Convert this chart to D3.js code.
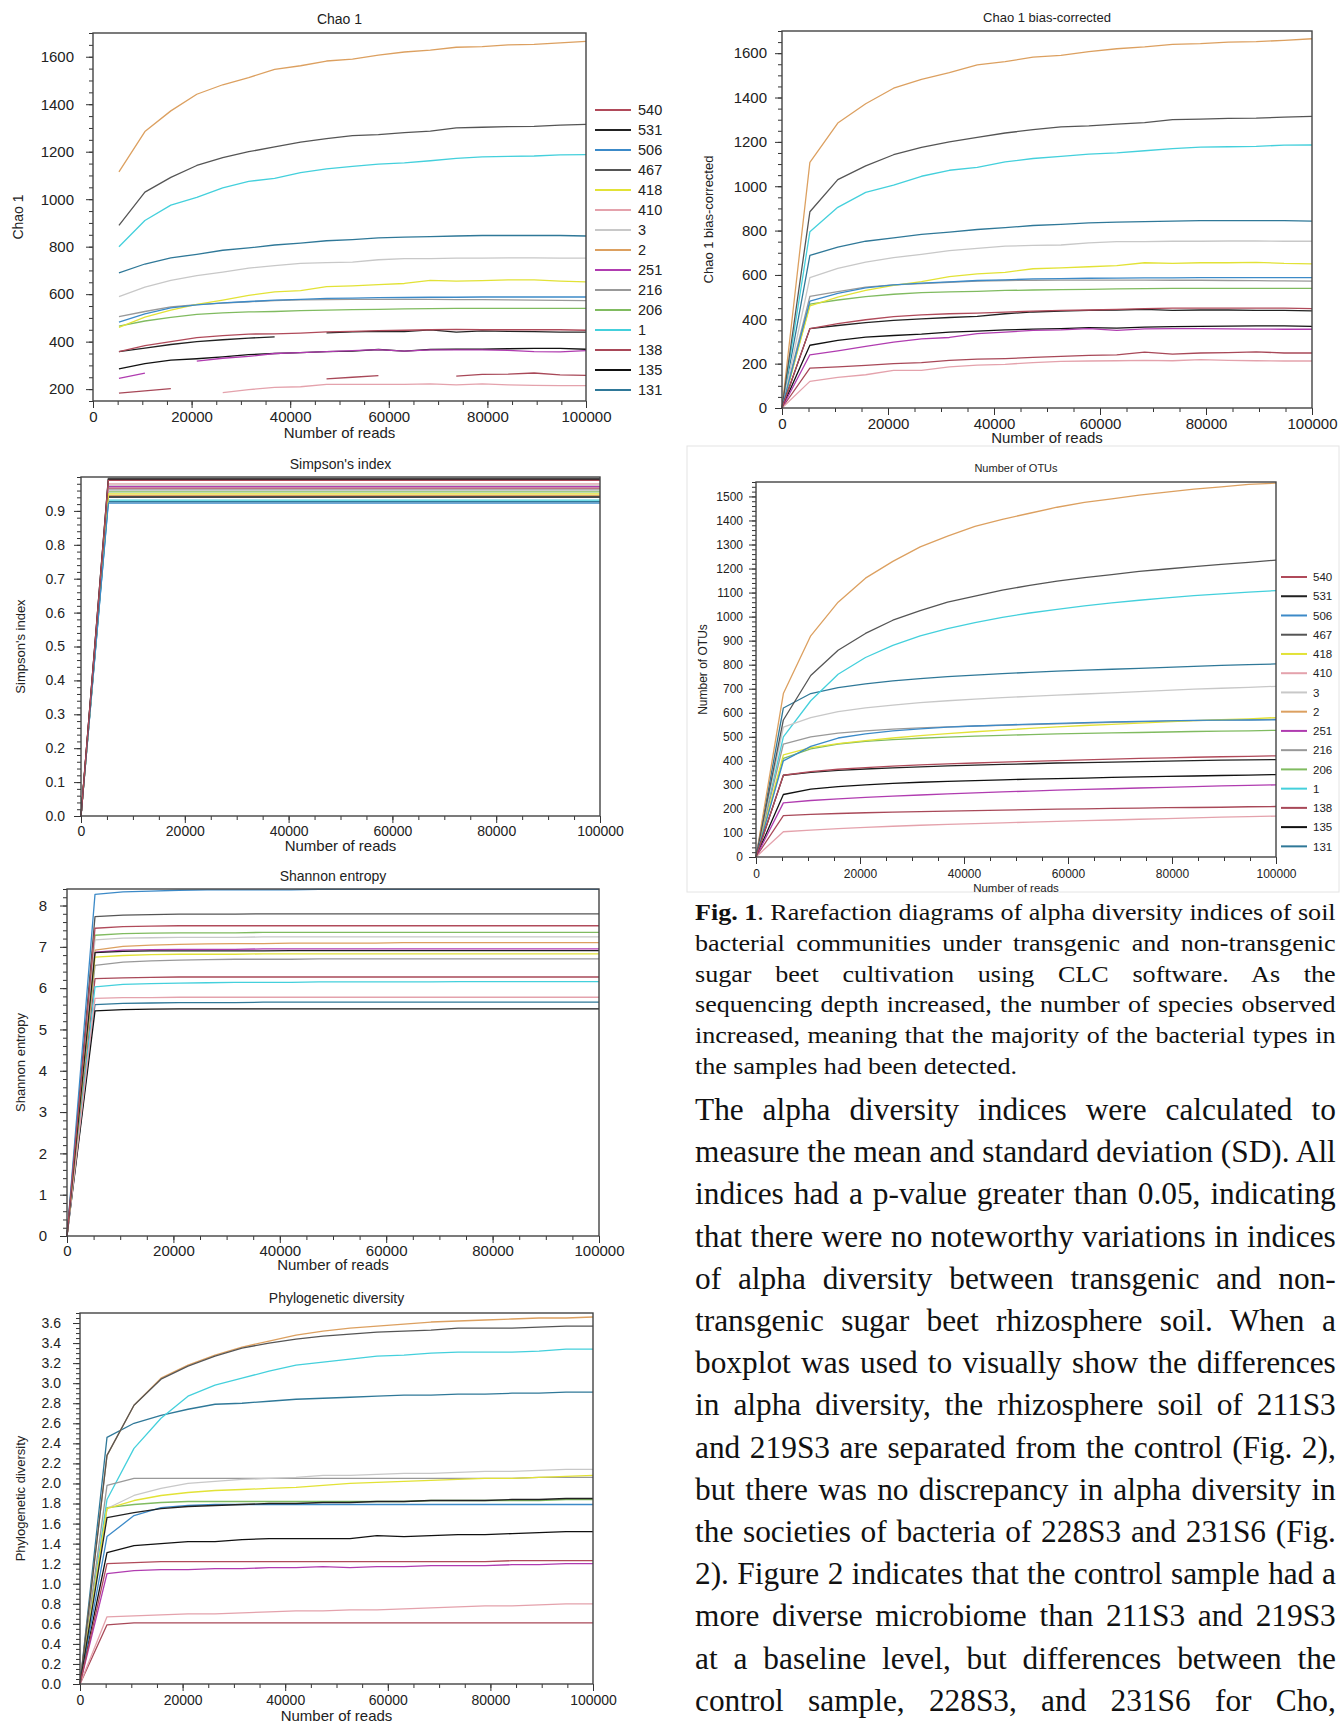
<!DOCTYPE html>
<html><head><meta charset="utf-8">
<script src="https://cdn.jsdelivr.net/npm/d3@7"></script>
<style>
body{margin:0;background:#fff}
svg{display:block}
</style></head><body>
<svg id="fig" width="1340" height="1723"></svg>
<script>
// ---------------- DATA ----------------
const reads = [0, 5263, 10526, 15789, 21053, 26316, 31579, 36842, 42105, 47368, 52632, 57895, 63158, 68421, 73684, 78947, 84211, 89474, 94737, 100000];
const simpsonReads = [0, 5263, 100000];
const readsTicks = [0, 20000, 40000, 60000, 80000, 100000];

const sampleNames = ["540", "531", "506", "467", "418", "410", "3", "2", "251", "216", "206", "1", "138", "135", "131"];
const sampleColors = ["#b04a5a", "#222222", "#3c8ac8", "#555555", "#e2e236", "#e4a2ac", "#c8c8c8", "#dca060", "#b03cb0", "#999999", "#80bb60", "#44d0dc", "#a84858", "#111111", "#2f7898"];

const chao1Ticks = [200, 400, 600, 800, 1000, 1200, 1400, 1600];
const biasTicks = [0, 200, 400, 600, 800, 1000, 1200, 1400, 1600];
const simpsonTicks = [0, 0.1, 0.2, 0.3, 0.4, 0.5, 0.6, 0.7, 0.8, 0.9];
const otuTicks = [0, 100, 200, 300, 400, 500, 600, 700, 800, 900, 1000, 1100, 1200, 1300, 1400, 1500];
const shannonTicks = [0, 1, 2, 3, 4, 5, 6, 7, 8];
const phyloTicks = [0, 0.2, 0.4, 0.6, 0.8, 1.0, 1.2, 1.4, 1.6, 1.8, 2.0, 2.2, 2.4, 2.6, 2.8, 3.0, 3.2, 3.4, 3.6];

// Chao 1 (null = no value drawn)
const chao1Values = [
  [null, 358, 383, 400, 417, 425, 432, 433, 436, 441, 443, 446, 448, 450, 452, 450, 450, 450, 450, 448],
  [null, 358, 373, 388, 400, 408, 415, 420, null, 437, 441, 443, 442, 450, 440, 445, 443, 442, 440, 440],
  [null, 482, 517, 542, 555, 563, 569, 575, 578, 582, 583, 585, 586, 587, 587, 588, 588, 588, 588, 588],
  [null, 890, 1030, 1092, 1142, 1175, 1200, 1220, 1240, 1255, 1268, 1272, 1280, 1287, 1300, 1303, 1306, 1307, 1312, 1315],
  [null, 460, 503, 533, 557, 575, 595, 610, 615, 632, 635, 640, 645, 658, 655, 657, 660, 660, 655, 652],
  [null, null, null, null, null, 185, 198, 207, 210, 220, 220, 220, 220, 222, 218, 222, 218, 216, 215, 215],
  [null, 590, 630, 658, 678, 693, 710, 720, 730, 733, 735, 745, 750, 750, 752, 752, 753, 753, 752, 752],
  [null, 1115, 1285, 1372, 1442, 1482, 1512, 1547, 1562, 1582, 1590, 1607, 1620, 1628, 1640, 1643, 1650, 1652, 1658, 1665],
  [null, 245, 267, null, 318, 330, 338, 350, 354, 358, 362, 366, 360, 365, 365, 365, 363, 358, 357, 362],
  [null, 505, 527, 546, 556, 562, 568, 573, 576, 577, 578, 578, 578, 578, 577, 577, 576, 575, 574, 573],
  [null, 465, 487, 502, 515, 521, 525, 527, 531, 533, 535, 536, 538, 539, 540, 540, 540, 540, 540, 540],
  [null, 800, 910, 975, 1008, 1048, 1075, 1088, 1112, 1128, 1138, 1148, 1153, 1162, 1172, 1178, 1180, 1182, 1187, 1188],
  [null, 183, 193, 202, null, null, null, null, null, 243, 250, 257, null, null, 255, 262, 263, 268, 260, 258],
  [null, 285, 307, 322, 328, 336, 345, 350, 354, 358, 360, 367, 360, 367, 368, 368, 370, 372, 372, 368],
  [null, 690, 727, 753, 768, 785, 795, 807, 815, 825, 830, 837, 840, 842, 845, 847, 847, 847, 847, 845]
];

// Chao 1 bias-corrected
const biasValues = [
  [0, 358, 380, 398, 412, 420, 425, 428, 432, 437, 440, 442, 445, 448, 450, 450, 450, 450, 450, 448],
  [0, 358, 372, 385, 395, 402, 408, 413, 425, 433, 437, 440, 442, 445, 440, 442, 442, 440, 440, 438],
  [0, 482, 517, 542, 555, 563, 569, 575, 578, 582, 583, 585, 586, 587, 587, 588, 588, 588, 588, 588],
  [0, 885, 1030, 1092, 1142, 1175, 1200, 1220, 1240, 1255, 1268, 1272, 1280, 1287, 1300, 1303, 1306, 1307, 1312, 1315],
  [0, 460, 500, 530, 553, 570, 592, 605, 612, 628, 632, 637, 642, 655, 652, 655, 655, 657, 652, 650],
  [0, 120, 138, 150, 170, 170, 185, 193, 197, 205, 210, 212, 213, 215, 213, 218, 215, 213, 212, 212],
  [0, 588, 630, 658, 678, 693, 710, 720, 730, 733, 735, 745, 750, 750, 752, 752, 753, 753, 752, 752],
  [0, 1108, 1285, 1372, 1442, 1482, 1512, 1547, 1562, 1582, 1590, 1607, 1620, 1628, 1640, 1643, 1650, 1652, 1658, 1665],
  [0, 240, 258, 278, 297, 312, 318, 335, 342, 350, 352, 358, 350, 357, 358, 358, 357, 356, 355, 355],
  [0, 503, 525, 545, 555, 561, 567, 572, 575, 576, 577, 577, 577, 577, 576, 576, 575, 574, 573, 572],
  [0, 468, 487, 502, 513, 520, 524, 526, 530, 532, 534, 535, 537, 538, 539, 539, 539, 539, 539, 539],
  [0, 795, 905, 972, 1005, 1045, 1072, 1085, 1110, 1125, 1135, 1145, 1150, 1160, 1170, 1176, 1178, 1180, 1185, 1186],
  [0, 180, 185, 192, 200, 205, 215, 220, 223, 228, 233, 237, 240, 252, 243, 248, 250, 253, 248, 248],
  [0, 283, 305, 320, 327, 333, 342, 347, 352, 356, 358, 362, 360, 365, 367, 368, 369, 370, 370, 368],
  [0, 688, 725, 752, 767, 783, 793, 805, 813, 823, 828, 835, 838, 840, 843, 845, 845, 845, 845, 843]
];

// Simpson's index (points at simpsonReads)
const simpsonValues = [
  [0, 0.990, 0.990], [0, 0.993, 0.993], [0, 0.923, 0.923], [0, 0.996, 0.996], [0, 0.950, 0.950],
  [0, 0.980, 0.980], [0, 0.976, 0.976], [0, 0.946, 0.946], [0, 0.972, 0.972], [0, 0.962, 0.962],
  [0, 0.956, 0.956], [0, 0.932, 0.932], [0, 0.967, 0.967], [0, 0.941, 0.941], [0, 0.927, 0.927]
];

// Number of OTUs
const otuValues = [
  [0, 340, 355, 365, 372, 378, 383, 387, 391, 395, 398, 401, 404, 407, 410, 412, 415, 417, 419, 421],
  [0, 340, 352, 360, 366, 371, 375, 379, 382, 385, 388, 391, 393, 395, 397, 399, 401, 403, 404, 405],
  [0, 400, 460, 495, 512, 525, 533, 540, 545, 549, 553, 556, 559, 562, 564, 566, 568, 569, 570, 571],
  [0, 570, 755, 860, 930, 985, 1025, 1060, 1085, 1110, 1130, 1148, 1162, 1175, 1188, 1198, 1208, 1217, 1226, 1235],
  [0, 425, 455, 472, 484, 495, 505, 513, 521, 528, 535, 541, 547, 552, 557, 562, 567, 571, 575, 580],
  [0, 105, 112, 118, 123, 128, 132, 136, 139, 142, 145, 148, 151, 154, 157, 160, 163, 166, 168, 170],
  [0, 540, 580, 605, 620, 632, 642, 650, 657, 663, 668, 673, 678, 683, 688, 693, 698, 702, 706, 710],
  [0, 680, 920, 1060, 1160, 1230, 1290, 1335, 1375, 1405, 1430, 1455, 1475, 1490, 1505, 1518, 1530, 1540, 1550, 1555],
  [0, 225, 235, 242, 248, 253, 258, 263, 267, 271, 274, 278, 281, 284, 287, 290, 293, 296, 298, 300],
  [0, 470, 500, 515, 525, 532, 537, 541, 545, 548, 551, 554, 557, 560, 562, 565, 567, 569, 571, 573],
  [0, 410, 450, 470, 481, 488, 494, 499, 503, 506, 509, 512, 514, 516, 518, 520, 522, 524, 525, 527],
  [0, 500, 650, 760, 830, 880, 920, 950, 975, 997, 1015, 1030, 1045, 1057, 1068, 1078, 1087, 1095, 1102, 1108],
  [0, 172, 177, 181, 184, 187, 189, 191, 193, 195, 197, 199, 200, 202, 203, 205, 206, 207, 209, 210],
  [0, 260, 282, 293, 300, 306, 311, 315, 318, 321, 324, 326, 328, 331, 333, 335, 337, 339, 341, 343],
  [0, 620, 680, 705, 720, 733, 742, 750, 757, 763, 768, 773, 777, 781, 785, 789, 793, 797, 800, 803]
];

// Shannon entropy
const shannonValues = [
  [0, 7.45, 7.49, 7.50, 7.51, 7.51, 7.51, 7.51, 7.51, 7.51, 7.51, 7.51, 7.51, 7.51, 7.51, 7.51, 7.51, 7.51, 7.51, 7.51],
  [0, 6.86, 6.89, 6.90, 6.90, 6.90, 6.90, 6.90, 6.91, 6.91, 6.91, 6.91, 6.91, 6.91, 6.91, 6.91, 6.91, 6.91, 6.91, 6.91],
  [0, 8.27, 8.33, 8.35, 8.37, 8.38, 8.38, 8.38, 8.38, 8.39, 8.39, 8.39, 8.39, 8.39, 8.39, 8.39, 8.39, 8.39, 8.39, 8.39],
  [0, 7.73, 7.77, 7.78, 7.79, 7.79, 7.79, 7.80, 7.80, 7.80, 7.80, 7.80, 7.80, 7.80, 7.80, 7.80, 7.80, 7.80, 7.80, 7.80],
  [0, 6.75, 6.79, 6.81, 6.82, 6.82, 6.82, 6.83, 6.83, 6.83, 6.83, 6.83, 6.83, 6.83, 6.83, 6.83, 6.83, 6.83, 6.83, 6.83],
  [0, 5.75, 5.77, 5.77, 5.78, 5.78, 5.78, 5.78, 5.78, 5.78, 5.78, 5.78, 5.78, 5.78, 5.78, 5.78, 5.78, 5.78, 5.78, 5.78],
  [0, 7.17, 7.21, 7.22, 7.23, 7.23, 7.23, 7.24, 7.24, 7.24, 7.24, 7.24, 7.24, 7.24, 7.24, 7.24, 7.24, 7.24, 7.24, 7.24],
  [0, 6.92, 7.01, 7.04, 7.06, 7.07, 7.08, 7.08, 7.09, 7.09, 7.09, 7.09, 7.10, 7.10, 7.10, 7.10, 7.10, 7.10, 7.10, 7.10],
  [0, 6.87, 6.92, 6.93, 6.94, 6.94, 6.94, 6.95, 6.95, 6.95, 6.95, 6.95, 6.95, 6.95, 6.95, 6.95, 6.95, 6.95, 6.95, 6.95],
  [0, 6.55, 6.63, 6.66, 6.68, 6.69, 6.70, 6.70, 6.70, 6.71, 6.71, 6.71, 6.71, 6.71, 6.71, 6.71, 6.71, 6.71, 6.71, 6.71],
  [0, 7.28, 7.32, 7.33, 7.34, 7.34, 7.34, 7.35, 7.35, 7.35, 7.35, 7.35, 7.35, 7.35, 7.35, 7.35, 7.35, 7.35, 7.35, 7.35],
  [0, 6.03, 6.09, 6.11, 6.12, 6.13, 6.14, 6.14, 6.14, 6.15, 6.15, 6.15, 6.15, 6.15, 6.16, 6.16, 6.16, 6.16, 6.16, 6.16],
  [0, 6.23, 6.25, 6.26, 6.27, 6.27, 6.27, 6.27, 6.27, 6.27, 6.27, 6.27, 6.27, 6.27, 6.27, 6.27, 6.27, 6.27, 6.27, 6.27],
  [0, 5.45, 5.48, 5.49, 5.50, 5.50, 5.50, 5.50, 5.50, 5.50, 5.50, 5.50, 5.50, 5.50, 5.50, 5.50, 5.50, 5.50, 5.50, 5.50],
  [0, 5.60, 5.63, 5.64, 5.65, 5.65, 5.65, 5.66, 5.66, 5.66, 5.66, 5.66, 5.66, 5.66, 5.66, 5.66, 5.66, 5.66, 5.66, 5.66]
];

// Phylogenetic diversity
const phyloValues = [
  [0, 1.20, 1.21, 1.22, 1.22, 1.22, 1.22, 1.22, 1.22, 1.22, 1.22, 1.22, 1.22, 1.22, 1.22, 1.22, 1.23, 1.23, 1.23, 1.23],
  [0, 1.66, 1.71, 1.75, 1.77, 1.78, 1.79, 1.80, 1.80, 1.81, 1.81, 1.82, 1.82, 1.83, 1.83, 1.83, 1.84, 1.84, 1.85, 1.85],
  [0, 1.47, 1.68, 1.76, 1.78, 1.79, 1.79, 1.79, 1.79, 1.79, 1.79, 1.79, 1.79, 1.79, 1.79, 1.79, 1.79, 1.79, 1.79, 1.79],
  [0, 2.28, 2.78, 3.04, 3.17, 3.27, 3.35, 3.40, 3.44, 3.47, 3.49, 3.51, 3.52, 3.53, 3.55, 3.55, 3.55, 3.56, 3.57, 3.57],
  [0, 1.75, 1.83, 1.88, 1.91, 1.93, 1.94, 1.95, 1.96, 1.98, 2.00, 2.01, 2.02, 2.03, 2.04, 2.05, 2.05, 2.06, 2.07, 2.08],
  [0, 0.67, 0.68, 0.69, 0.70, 0.70, 0.71, 0.72, 0.73, 0.73, 0.74, 0.74, 0.75, 0.76, 0.77, 0.78, 0.78, 0.79, 0.80, 0.80],
  [0, 1.75, 1.88, 1.95, 2.00, 2.02, 2.04, 2.05, 2.06, 2.08, 2.08, 2.09, 2.10, 2.10, 2.11, 2.12, 2.12, 2.13, 2.14, 2.14],
  [0, 2.28, 2.78, 3.05, 3.18, 3.28, 3.36, 3.42, 3.48, 3.52, 3.55, 3.57, 3.59, 3.61, 3.62, 3.63, 3.64, 3.65, 3.65, 3.66],
  [0, 1.10, 1.13, 1.14, 1.14, 1.15, 1.15, 1.16, 1.16, 1.17, 1.16, 1.17, 1.17, 1.18, 1.18, 1.18, 1.19, 1.19, 1.20, 1.20],
  [0, 1.98, 2.05, 2.05, 2.05, 2.05, 2.05, 2.05, 2.05, 2.05, 2.05, 2.05, 2.05, 2.05, 2.05, 2.05, 2.05, 2.06, 2.06, 2.06],
  [0, 1.76, 1.79, 1.81, 1.82, 1.82, 1.82, 1.82, 1.82, 1.82, 1.82, 1.82, 1.82, 1.83, 1.83, 1.83, 1.83, 1.83, 1.84, 1.84],
  [0, 1.84, 2.35, 2.65, 2.87, 2.98, 3.05, 3.12, 3.18, 3.21, 3.24, 3.27, 3.28, 3.30, 3.31, 3.31, 3.31, 3.32, 3.34, 3.34],
  [0, 0.59, 0.61, 0.61, 0.61, 0.61, 0.61, 0.61, 0.61, 0.61, 0.61, 0.61, 0.61, 0.61, 0.61, 0.61, 0.61, 0.61, 0.61, 0.61],
  [0, 1.31, 1.38, 1.40, 1.42, 1.42, 1.44, 1.45, 1.45, 1.45, 1.45, 1.48, 1.47, 1.48, 1.49, 1.49, 1.50, 1.51, 1.52, 1.52],
  [0, 2.46, 2.60, 2.68, 2.74, 2.79, 2.80, 2.82, 2.84, 2.85, 2.86, 2.87, 2.88, 2.88, 2.89, 2.89, 2.90, 2.90, 2.91, 2.91]
];

const captionLead = "Fig. 1";
const captionLines = [
  ". Rarefaction diagrams of alpha diversity indices of soil",
  "bacterial communities under transgenic and non-transgenic",
  "sugar beet cultivation using CLC software. As the",
  "sequencing depth increased, the number of species observed",
  "increased, meaning that the majority of the bacterial types in",
  "the samples had been detected."
];
const bodyLines = [
  "The alpha diversity indices were calculated to",
  "measure the mean and standard deviation (SD). All",
  "indices had a p-value greater than 0.05, indicating",
  "that there were no noteworthy variations in indices",
  "of alpha diversity between transgenic and non-",
  "transgenic sugar beet rhizosphere soil. When a",
  "boxplot was used to visually show the differences",
  "in alpha diversity, the rhizosphere soil of 211S3",
  "and 219S3 are separated from the control (Fig. 2),",
  "but there was no discrepancy in alpha diversity in",
  "the societies of bacteria of 228S3 and 231S6 (Fig.",
  "2). Figure 2 indicates that the control sample had a",
  "more diverse microbiome than 211S3 and 219S3",
  "at a baseline level, but differences between the",
  "control sample, 228S3, and 231S6 for Cho,"
];

// ---------------- DRAWING ----------------
const svg = d3.select("#fig");
const SANS = '"Liberation Sans", Arial, Helvetica, sans-serif';
const SERIF = '"Liberation Serif", "Times New Roman", Times, serif';

// light frame around the OTU figure
svg.append("rect").attr("x", 687).attr("y", 446).attr("width", 652).attr("height", 446)
  .attr("fill", "none").attr("stroke", "#e4e4e4").attr("stroke-width", 1);

const fmtInt = d3.format("d"), fmt1 = d3.format(".1f");

const panels = [
  {title: "Chao 1", ylabel: "Chao 1", values: chao1Values, xs: reads, ticks: chao1Ticks, minorStep: 50, fmt: fmtInt,
   x0: 93, x1: 586, y0: 33, y1: 401, ydom: [150, 1700], titleY: 19, titleFs: 14, ylabX: 18, ylabFs: 14,
   xtitleY: 433, xtitleFs: 15, tickFs: 15, yGap: 19, xGap: 16,
   legend: {x0: 595, x1: 631, tx: 638, y: 110, dy: 20, fs: 14.5}},
  {title: "Chao 1 bias-corrected", ylabel: "Chao 1 bias-corrected", values: biasValues, xs: reads, ticks: biasTicks, minorStep: 50, fmt: fmtInt,
   x0: 782, x1: 1312, y0: 31, y1: 408, ydom: [0, 1700], titleY: 17, titleFs: 13, ylabX: 708, ylabFs: 13,
   xtitleY: 438, xtitleFs: 15, tickFs: 15, yGap: 15, xGap: 16},
  {title: "Simpson's index", ylabel: "Simpson's index", values: simpsonValues, xs: simpsonReads, ticks: simpsonTicks, minorStep: 0.02, fmt: fmt1,
   x0: 81, x1: 600, y0: 477, y1: 816, ydom: [0, 1.0], titleY: 464, titleFs: 14, ylabX: 20, ylabFs: 13,
   xtitleY: 846, xtitleFs: 15, tickFs: 14, yGap: 16, xGap: 15},
  {title: "Number of OTUs", ylabel: "Number of OTUs", values: otuValues, xs: reads, ticks: otuTicks, minorStep: 20, fmt: fmtInt,
   x0: 756, x1: 1276, y0: 482, y1: 857, ydom: [0, 1560], titleY: 468, titleFs: 11, ylabX: 703, ylabFs: 12,
   xtitleY: 888, xtitleFs: 11.5, tickFs: 12, yGap: 13, xGap: 17,
   legend: {x0: 1281, x1: 1307, tx: 1313, y: 577, dy: 19.24, fs: 11.5}},
  {title: "Shannon entropy", ylabel: "Shannon entropy", values: shannonValues, xs: reads, ticks: shannonTicks, minorStep: 0.2, fmt: fmtInt,
   x0: 67, x1: 599, y0: 889, y1: 1236, ydom: [0, 8.4], titleY: 876, titleFs: 14, ylabX: 20, ylabFs: 13,
   xtitleY: 1265, xtitleFs: 15, tickFs: 15, yGap: 20, xGap: 15},
  {title: "Phylogenetic diversity", ylabel: "Phylogenetic diversity", values: phyloValues, xs: reads, ticks: phyloTicks, minorStep: 0.05, fmt: fmt1,
   x0: 80, x1: 593, y0: 1313, y1: 1684, ydom: [0, 3.7], titleY: 1298, titleFs: 14, ylabX: 20, ylabFs: 13,
   xtitleY: 1716, xtitleFs: 15, tickFs: 14, yGap: 19, xGap: 16.5}
];

function styleAxis(sel, fs) {
  sel.select(".domain").remove();
  sel.selectAll(".tick line").attr("stroke", "#333").attr("stroke-width", 1);
  sel.selectAll(".tick text").attr("fill", "#222").attr("font-size", fs).attr("font-family", SANS);
  sel.attr("font-family", SANS).attr("font-size", fs);
}

panels.forEach(p => {
  const g = svg.append("g");
  const x = d3.scaleLinear().domain([0, 100000]).range([p.x0, p.x1]);
  const y = d3.scaleLinear().domain(p.ydom).range([p.y1, p.y0]);
  const majorLen = 7, minorLen = 4;

  // y minor ticks
  const yMinor = d3.range(p.ydom[0], p.ydom[1] + 1e-9, p.minorStep).map(v => +v.toFixed(4))
    .filter(v => v >= p.ydom[0] && v <= p.ydom[1]);
  g.append("g").attr("transform", `translate(${p.x0},0)`)
    .call(d3.axisLeft(y).tickValues(yMinor).tickSize(minorLen).tickFormat(""))
    .call(s => styleAxis(s, p.tickFs));
  g.append("g").attr("transform", `translate(${p.x0},0)`)
    .call(d3.axisLeft(y).tickValues(p.ticks).tickSize(majorLen).tickPadding(p.yGap - majorLen).tickFormat(p.fmt))
    .call(s => styleAxis(s, p.tickFs));

  // x ticks
  const xMinor = d3.range(0, 100001, 5000);
  g.append("g").attr("transform", `translate(0,${p.y1})`)
    .call(d3.axisBottom(x).tickValues(xMinor).tickSize(minorLen).tickFormat(""))
    .call(s => styleAxis(s, p.tickFs));
  g.append("g").attr("transform", `translate(0,${p.y1})`)
    .call(d3.axisBottom(x).tickValues(readsTicks).tickSize(majorLen)
      .tickPadding(Math.max(0, p.xGap - majorLen - 0.36 * p.tickFs)).tickFormat(fmtInt))
    .call(s => styleAxis(s, p.tickFs));

  // lines (drawn in reverse legend order so the first samples lie on top)
  const line = d3.line().defined(d => d[1] != null).x(d => x(d[0])).y(d => y(d[1]));
  const series = p.values.map((vals, i) => ({i, pts: vals.map((v, k) => [p.xs[k], v])}));
  g.append("g").selectAll("path").data(series.slice().reverse()).join("path")
    .attr("d", d => line(d.pts))
    .attr("fill", "none")
    .attr("stroke", d => sampleColors[d.i])
    .attr("stroke-width", 1.3)
    .attr("stroke-linejoin", "round");

  // frame
  g.append("rect").attr("x", p.x0).attr("y", p.y0).attr("width", p.x1 - p.x0).attr("height", p.y1 - p.y0)
    .attr("fill", "none").attr("stroke", "#444").attr("stroke-width", 1.4);

  // titles
  g.append("text").attr("x", (p.x0 + p.x1) / 2).attr("y", p.titleY + 0.35 * p.titleFs)
    .attr("text-anchor", "middle").attr("font-family", SANS).attr("font-size", p.titleFs).attr("fill", "#222").text(p.title);
  g.append("text").attr("x", (p.x0 + p.x1) / 2).attr("y", p.xtitleY + 0.35 * p.xtitleFs)
    .attr("text-anchor", "middle").attr("font-family", SANS).attr("font-size", p.xtitleFs).attr("fill", "#222").text("Number of reads");
  g.append("text").attr("transform", `translate(${p.ylabX + 0.35 * p.ylabFs},${(p.y0 + p.y1) / 2}) rotate(-90)`)
    .attr("text-anchor", "middle").attr("font-family", SANS).attr("font-size", p.ylabFs).attr("fill", "#222").text(p.ylabel);

  // legend
  if (p.legend) {
    const L = p.legend;
    const lg = g.append("g");
    sampleNames.forEach((name, i) => {
      const yy = L.y + i * L.dy;
      lg.append("line").attr("x1", L.x0).attr("x2", L.x1).attr("y1", yy).attr("y2", yy)
        .attr("stroke", sampleColors[i]).attr("stroke-width", 2);
      lg.append("text").attr("x", L.tx).attr("y", yy + 0.36 * L.fs).attr("font-family", SANS)
        .attr("font-size", L.fs).attr("fill", "#222").text(name);
    });
  }
});

// ---------------- TEXT BLOCKS ----------------
function paragraph(lines, opt) {
  const g = svg.append("g").attr("font-family", SERIF).attr("font-size", opt.size).attr("fill", "#111");
  const items = lines.map((ln, i) => {
    const t = g.append("text").attr("x", 0).attr("y", opt.y + i * opt.dy).attr("xml:space", "preserve");
    if (i === 0 && opt.lead) t.append("tspan").attr("font-weight", "bold").text(opt.lead);
    t.append("tspan").text(ln);
    const full = (i === 0 && opt.lead ? opt.lead : "") + ln;
    return {t, full, w: t.node().getComputedTextLength(), justify: !(opt.lastPlain && i === lines.length - 1)};
  });
  const maxW = d3.max(items.filter(d => d.justify), d => d.w);
  const f = opt.width / maxW;
  g.attr("transform", `translate(${opt.x},0) scale(${f},1)`);
  items.forEach(d => {
    if (!d.justify) return;
    const n = (d.full.match(/ /g) || []).length;
    if (n) d.t.attr("word-spacing", ((opt.width / f) - d.w) / n);
  });
}

paragraph(captionLines, {lead: captionLead, x: 695, y: 920, dy: 30.8, size: 24, width: 641, lastPlain: true});
paragraph(bodyLines, {x: 695, y: 1120, dy: 42.2, size: 31, width: 641, lastPlain: false});
</script>
</body></html>
